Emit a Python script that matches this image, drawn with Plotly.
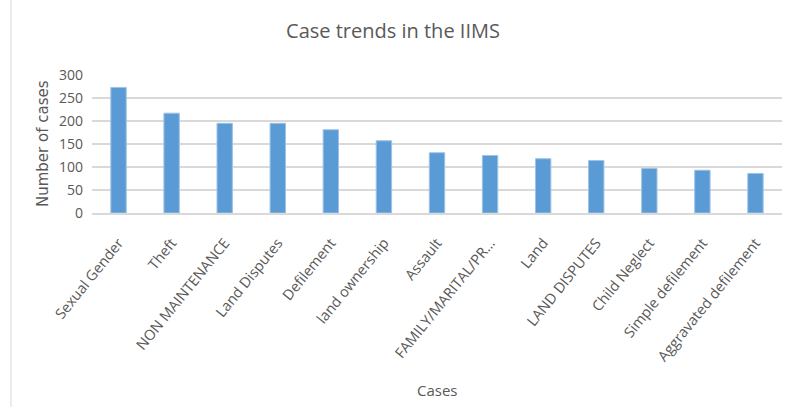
import plotly.graph_objects as go

categories = ["Sexual Gender", "Theft", "NON MAINTENANCE", "Land Disputes", "Defilement",
              "land ownership", "Assault", "FAMILY/MARITAL/PR...", "Land", "LAND DISPUTES",
              "Child Neglect", "Simple defilement", "Aggravated defilement"]
values = [273, 217, 195, 195, 181, 157, 131, 125, 118, 114, 97, 93, 86]
y_ticks = [0, 50, 100, 150, 200, 250, 300]

FONT = "Open Sans, sans-serif"
GRAY = "#595959"

fig = go.Figure(go.Bar(
    x=categories, y=values,
    marker=dict(color="#5b9bd5", line=dict(color="#9dc3e6", width=1)),
    width=0.29,
))

fig.update_layout(
    width=786, height=407,
    margin=dict(l=92, r=4, t=75, b=194, autoexpand=False),
    paper_bgcolor="white", plot_bgcolor="white",
    showlegend=False,
    title=dict(text="Case trends in the IIMS", x=0.5, xanchor="center", y=0.925, yanchor="middle",
               font=dict(family=FONT, size=20, color=GRAY)),
    font=dict(family=FONT, color=GRAY),
)
fig.update_xaxes(
    tickangle=-51, tickfont=dict(family=FONT, size=14.5, color=GRAY),
    showgrid=False, showline=True, linecolor="#d9d9d9", linewidth=1.5,
    automargin=False, ticks="", ticklabelstandoff=14,
)
fig.update_yaxes(
    range=[0, 300], tickvals=y_ticks, tickfont=dict(family=FONT, size=14, color=GRAY),
    showgrid=True, gridcolor="#d9d9d9", gridwidth=1.5, zeroline=False,
    automargin=False, ticks="", ticklabelstandoff=8,
)
fig.add_annotation(text="Cases", xref="paper", yref="paper", x=0.5, y=-1.283, showarrow=False,
                   xanchor="center", yanchor="middle",
                   font=dict(family=FONT, size=15, color=GRAY))
fig.add_annotation(text="Number of cases", xref="paper", yref="paper", x=-0.071, y=0.5,
                   showarrow=False, textangle=-90, xanchor="center", yanchor="middle",
                   font=dict(family="DejaVu Sans, sans-serif", size=15, color=GRAY))
fig.add_shape(type="line", xref="paper", yref="paper", x0=-0.1174, x1=-0.1174, y0=-1.45, y1=1.6,
              line=dict(color="#d9d9d9", width=1))

fig.write_html("out.html", config={"displayModeBar": False},
               post_script="document.body.style.margin='0';")
